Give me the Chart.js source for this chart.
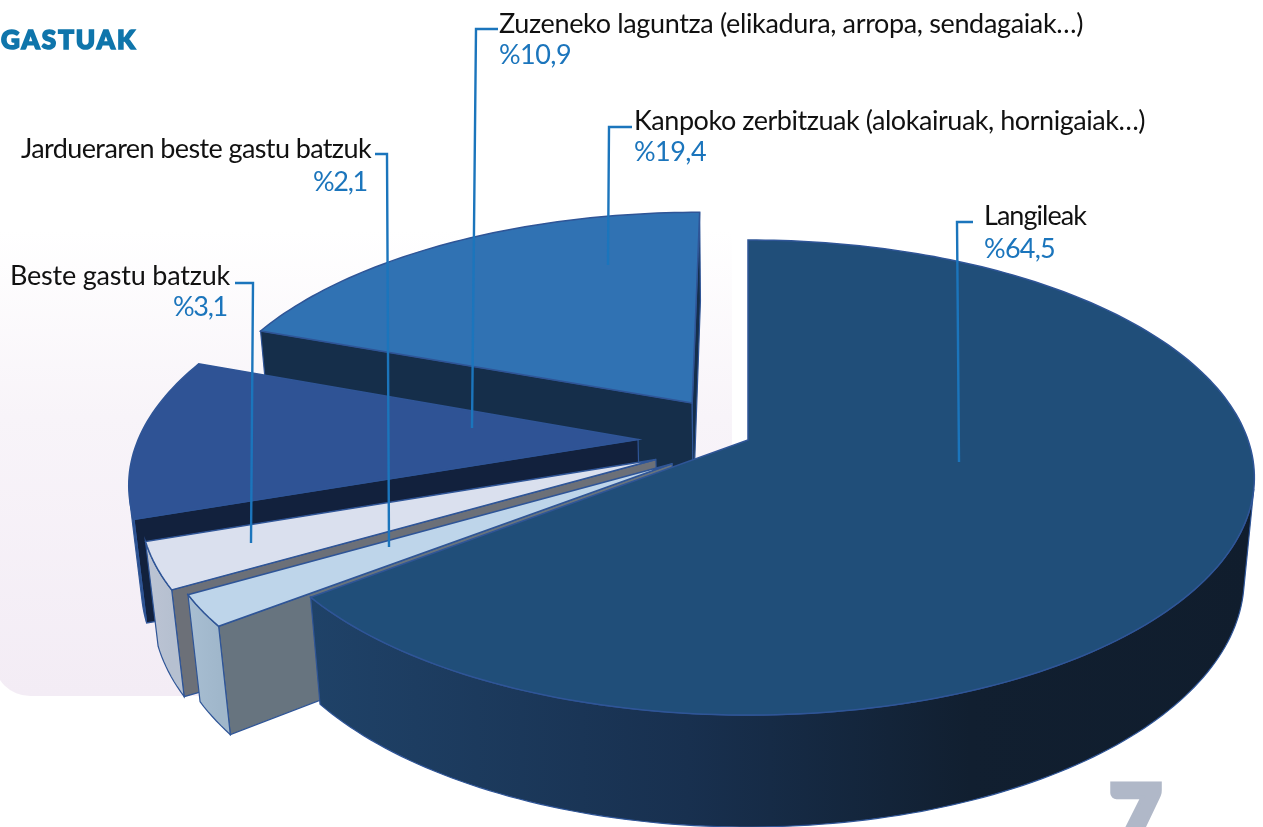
<!DOCTYPE html>
<html>
<head>
<meta charset="utf-8">
<title>Gastuak</title>
<script src="https://cdn.jsdelivr.net/npm/chart.js"></script>
<style>
    html, body { margin: 0; padding: 0; background: #fff; overflow: hidden; }
    #wrap { position: relative; width: 1263px; height: 827px; overflow: hidden; }
    #panel {
        position: absolute; left: -6px; top: 230px; width: 738px; height: 466px;
        border-bottom-left-radius: 36px; border-bottom-right-radius: 30px;
        background: linear-gradient(to bottom, #ffffff 0%, #f8f4f9 40%, #f3ecf5 100%);
    }
    canvas { position: absolute; left: 0; top: 0; }
</style>
</head>
<body>
<div id="wrap">
    <div id="panel"></div>
    <canvas id="chart" width="1263" height="827"></canvas>
</div>
<script>
const categories = [
    'Langileak',
    'Jardueraren beste gastu batzuk',
    'Beste gastu batzuk',
    'Zuzeneko laguntza (elikadura, arropa, sendagaiak…)',
    'Kanpoko zerbitzuak (alokairuak, hornigaiak…)',
];
const shares = [64.5, 2.1, 3.1, 10.9, 19.4];
const shareLabels = ['%64,5', '%2,1', '%3,1', '%10,9', '%19,4'];

// styles
const topColors = ['#204e79', '#bed5ea', '#dae0ee', '#2f5395', '#3072b3'];
const wallColors = ['#1b3a5e', '#67747f', '#6c7078', '#12213d', '#152e4a'];
const rimStops = [
    [[0, '#1f4268'], [0.4, '#18304f'], [0.7, '#111f30'], [1, '#101d2d']],
    [[0, '#a8bed2'], [1, '#a0b7cb']],
    [[0, '#bcc4d4'], [1, '#b6c0d0']],
    [[0, '#2b4f88'], [1, '#2b4f88']],
    [[0, '#152e4a'], [1, '#152e4a']],
];
const explode = [0, 18, 20, 22, 20];
const edgeColor = '#2f5597';
const leaderColor = '#1b75bc';
const textFont = '27px Lato, sans-serif';

// where each label sits: x, first baseline, second baseline, width, align, leader path
const labelLayout = [
    { x: 984, y1: 225, y2: 258, w: 102, w2: 71, align: 'left', leader: [[973, 222], [957, 222], [959, 462]] },
    { x: 371, y1: 158, y2: 191, w: 350, w2: 54, align: 'right', off2: -4, leader: [[375, 154], [387, 154], [389, 547]] },
    { x: 230, y1: 285, y2: 316, w: 220, w2: 54, align: 'right', off2: -3, leader: [[235, 283], [253, 283], [251, 543]] },
    { x: 499, y1: 33, y2: 64, w: 584, w2: 72, align: 'left', leader: [[498, 29], [476, 29], [472, 428]] },
    { x: 634, y1: 130, y2: 161, w: 511, w2: 72, align: 'left', leader: [[632, 127], [609, 127], [608, 265]] },
];

// perspective of the tilted pie
const CX = 748, CY = 440, R = 500, H = 231.6, K = 0.158, M = 0.02, D = 102;

function project(u, v, z) {
    const w = 1 - K * v + M * z;
    return [CX + R * u / w, CY + (H * v + D * z) / w];
}

function sliceOutline(arc) {
    const { startAngle, endAngle } = arc.getProps(['startAngle', 'endAngle'], true);
    const mid = (startAngle + endAngle) / 2;
    const d = (arc.options.offset || 0) / 100;
    const du = d * Math.cos(mid), dv = d * Math.sin(mid);
    const steps = Math.max(4, Math.ceil((endAngle - startAngle) / 0.02));
    const rim = [];
    for (let i = 0; i <= steps; i++) {
        const a = startAngle + (endAngle - startAngle) * i / steps;
        rim.push([du + Math.cos(a), dv + Math.sin(a)]);
    }
    return { apex: [du, dv], rim };
}

function tracePolygon(ctx, pts) {
    ctx.beginPath();
    pts.forEach((p, i) => (i ? ctx.lineTo(p[0], p[1]) : ctx.moveTo(p[0], p[1])));
    ctx.closePath();
}

function facesViewer(a, b) {
    const p = project(a[0], a[1], 0), q = project(b[0], b[1], 0), pb = project(a[0], a[1], 1);
    return (q[0] - p[0]) * (pb[1] - p[1]) - (q[1] - p[1]) * (pb[0] - p[0]) < -0.01;
}

function drawWall(ctx, path, fill) {
    const top = path.map(p => project(p[0], p[1], 0));
    const bottom = path.map(p => project(p[0], p[1], 1)).reverse();
    tracePolygon(ctx, top.concat(bottom));
    ctx.fillStyle = fill;
    ctx.fill();
    ctx.strokeStyle = edgeColor;
    ctx.lineWidth = 1.2;
    ctx.stroke();
}

function drawSlice(ctx, arc, index) {
    const { apex, rim } = sliceOutline(arc);
    const first = rim[0], last = rim[rim.length - 1];
    // radial walls
    if (facesViewer(apex, first)) drawWall(ctx, [apex, first], wallColors[index]);
    if (facesViewer(last, apex)) drawWall(ctx, [last, apex], wallColors[index]);
    // outer wall, only the part turned towards us
    let run = [];
    const flush = () => {
        if (run.length > 1) {
            const xs = run.map(p => project(p[0], p[1], 0)[0]);
            const grad = ctx.createLinearGradient(Math.min(...xs), 0, Math.max(...xs), 0);
            rimStops[index].forEach(s => grad.addColorStop(s[0], s[1]));
            drawWall(ctx, run, grad);
        }
        run = [];
    };
    for (let i = 0; i < rim.length - 1; i++) {
        if (facesViewer(rim[i], rim[i + 1])) {
            if (!run.length) run.push(rim[i]);
            run.push(rim[i + 1]);
        } else {
            flush();
        }
    }
    flush();
    // top face
    const face = [apex].concat(rim).map(p => project(p[0], p[1], 0));
    tracePolygon(ctx, face);
    ctx.fillStyle = arc.options.backgroundColor;
    ctx.fill();
    ctx.strokeStyle = edgeColor;
    ctx.lineWidth = 1.5;
    ctx.stroke();
}

function fitText(ctx, text, x, y, width, align) {
    ctx.letterSpacing = '0px';
    const natural = ctx.measureText(text).width;
    ctx.letterSpacing = ((width - natural) / text.length).toFixed(3) + 'px';
    ctx.textAlign = align;
    ctx.fillText(text, x, y);
    ctx.letterSpacing = '0px';
}

const pie3d = {
    id: 'pie3d',
    beforeDatasetDraw(chart, args) {
        const ctx = chart.ctx;
        const arcs = chart.getDatasetMeta(args.index).data;
        ctx.save();
        // back slices first, the big one sits in front
        for (let i = arcs.length - 1; i >= 0; i--) drawSlice(ctx, arcs[i], i);
        ctx.restore();
        return false;
    },
    afterDatasetsDraw(chart) {
        const ctx = chart.ctx;
        ctx.save();
        ctx.textBaseline = 'alphabetic';

        // heading and page number
        ctx.fillStyle = '#0f75ab';
        ctx.strokeStyle = '#0f75ab';
        ctx.font = '900 26px Lato, sans-serif';
        ctx.lineWidth = 1.6;
        ctx.textAlign = 'left';
        ctx.letterSpacing = '2px';
        ctx.strokeText('GASTUAK', 1, 49);
        ctx.fillText('GASTUAK', 1, 49);
        ctx.letterSpacing = '0px';
        ctx.fillStyle = '#b0b8c8';
        ctx.strokeStyle = '#b0b8c8';
        ctx.font = '900 88px Lato, sans-serif';
        ctx.lineWidth = 7;
        ctx.strokeText('7', 1110, 849);
        ctx.fillText('7', 1110, 849);

        categories.forEach((name, i) => {
            const l = labelLayout[i];
            ctx.strokeStyle = leaderColor;
            ctx.lineWidth = 2.4;
            ctx.beginPath();
            l.leader.forEach((p, j) => (j ? ctx.lineTo(p[0], p[1]) : ctx.moveTo(p[0], p[1])));
            ctx.stroke();

            ctx.font = textFont;
            ctx.fillStyle = '#111111';
            fitText(ctx, name, l.x, l.y1, l.w, l.align);
            ctx.fillStyle = leaderColor;
            fitText(ctx, shareLabels[i], l.x + (l.off2 || 0), l.y2, l.w2, l.align);
        });
        ctx.restore();
    },
};

new Chart(document.getElementById('chart').getContext('2d'), {
    type: 'pie',
    data: {
        labels: categories,
        datasets: [{
            data: shares,
            backgroundColor: topColors,
            offset: explode,
            borderWidth: 0,
        }],
    },
    options: {
        responsive: false,
        animation: false,
        plugins: { legend: { display: false }, tooltip: { enabled: false } },
    },
    plugins: [pie3d],
});
</script>
</body>
</html>
